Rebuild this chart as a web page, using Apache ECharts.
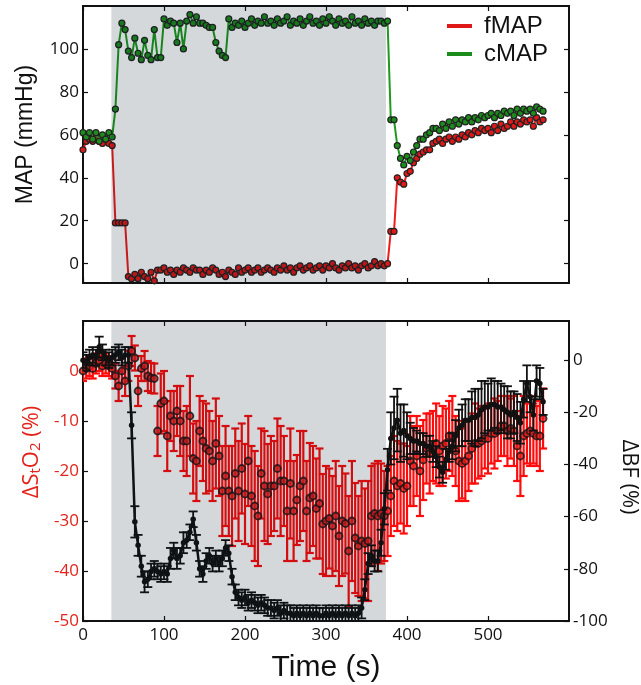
<!DOCTYPE html>
<html>
<head>
<meta charset="utf-8">
<script src="https://cdn.jsdelivr.net/npm/echarts@6.0.0/dist/echarts.min.js"></script>
<style>html,body{margin:0;padding:0;background:#fff}#c{width:641px;height:685px}</style>
</head>
<body>
<div id="c"></div>
<script>
// ---- data (sampled every 4 s, starting at 0 s) ----
const STEP = 4;
const fMAP = [
 53,57,58,57,59,57,56,58,56,55,
 19,19,19,19,-6,-7,-5,-7,-4,-6,
 -7,-4,-8,-3,-3,-2,-4,-3,-5,-3,
 -4,-2,-3,-4,-2,-3,-3,-5,-3,-4,
 -2,-3,-5,-4,-6,-3,-4,-5,-2,-4,
 -3,-2,-4,-3,-2,-4,-3,-2,-3,-4,
 -2,-3,-1,-3,-2,-4,-2,-1,-3,-2,
 -1,-3,-2,-1,-3,-1,-2,0,-2,-3,
 -1,-2,0,-2,-1,-3,-1,0,-2,-1,
 1,-1,0,-1,0,15,15,40,38,37,
 42,43,47,49,51,52,53,53,56,57,
 58,56,58,59,57,59,58,60,59,61,
 60,62,61,63,62,63,61,64,62,65,
 63,64,66,64,66,65,67,66,67,64,
 68,66,67];
const cMAP = [
 61,59,61,58,61,57,60,58,61,59,
 72,102,112,109,99,96,105,98,95,104,
 97,95,109,96,96,114,111,113,112,103,
 112,100,113,116,112,115,112,112,111,110,
 110,103,99,97,96,114,110,112,111,113,
 110,112,114,111,113,112,115,112,113,111,
 114,112,113,115,111,113,112,114,111,113,
 115,112,113,111,114,112,115,113,111,114,
 112,113,111,115,112,113,111,114,112,113,
 111,113,113,112,113,67,67,55,49,46,
 50,48,52,55,58,58,60,61,63,63,
 62,65,63,66,64,67,65,67,66,68,
 66,68,67,69,68,69,70,68,70,69,
 71,70,71,69,72,70,72,71,72,70,
 73,72,71];
const StO2 = [
 0,0.5,1,0.5,1.5,2,1,1.5,1,0.5,
 -1,-3,0,-2,1,4,2.6,-4,0.5,1,
 -1,-1.4,-1.5,-12,-6.5,-6,-13,-9,-10,-8,
 -10,-14,-14,-9,-17.5,-18,-12,-14,-15.5,-16,
 -18,-14.5,-17,-24,-21,-24,-25,-20.5,-24,-19.5,
 -24.6,-18,-25,-27,-29,-20.5,-23,-24.6,-23,-23,
 -19.5,-22,-22,-28,-22.5,-28,-25.8,-23,-22,-28,
 -25.4,-25,-27.5,-26.5,-30.6,-30,-29.5,-31,-29,-33,
 -30,-30.5,-36,-30,-33.4,-35,-34,-34.5,-34,-29,
 -28.5,-29,-28.5,-29,-28,-25,-22,-23,-22.5,-23.5,
 -23,-18,-19,-17,-20,-17.8,-15.5,-16.5,-15,-14.5,
 -16,-15,-14.5,-13,-13,-16,-18,-18.5,-18,-17,
 -15.5,-14.5,-14.5,-14,-13.5,-13.5,-12.5,-12.5,-12,-11,
 -11,-12,-11.5,-12,-15,-17,-13,-12.5,-12,-12.5,
 -13,-13,-9.5];
const StO2Err = [
 2,2,2,2,2,2,2,2,2,2,
 2.5,3,2.5,3,3,3,2.5,3,2.5,3,
 3,3,3,5,6,6,7,5,6,5,
 7,6,7,8,7,8,7,8,9,8,
 8,9,8,9,10,9,10,9,10,9,
 10,9,10,11,10,9,11,10,10,9,
 10,11,9,10,11,10,9,11,10,10,
 11,10,10,11,10,11,10,10,11,10,
 11,10,11,12,11,10,12,11,12,10,
 10,11,10,9,9,8,9,9,8,9,
 8,9,8,8,9,8,7,8,7,8,
 7,8,7,7,8,7,8,7,8,7,
 7,8,7,7,6,7,6,7,6,6,
 6,7,6,7,7,8,8,6,7,6,
 6,7,6];
const BF = [
 0,-1,1,2,1,5,3,1,0,1,
 2,3,1,2,2,-25,-62,-71,-79,-85,
 -84,-81,-80,-81,-82,-81,-82,-76,-73,-76,
 -75,-70,-69,-66,-61,-70,-80,-82,-77,-75,
 -78,-76,-78,-76,-72,-74,-83,-89,-91,-92,
 -91,-93,-92,-93,-94,-93,-94,-95,-95,-96,
 -95,-97,-96,-97,-97,-98,-97,-98,-97,-98,
 -97,-98,-97,-98,-98,-97,-98,-97,-98,-97,
 -98,-97,-98,-97,-98,-97,-95,-88,-78,-75,
 -77,-77,-70,-57,-42,-30,-26,-23,-28,-27,
 -29,-30,-31,-31,-32,-32,-33,-33,-35,-37,
 -41,-43,-38,-35,-33,-29,-26,-25,-23,-23,
 -22,-22,-21,-19,-18,-18,-17,-17,-18,-18,
 -19,-20,-21,-20,-22,-24,-15,-9,-14,-21,
 -8,-9,-16];
const BFErr = [
 3,3,3,3,3,4,3,3,3,3,
 3,3,3,3,3,5,6,4,4,4,
 3,3,3,3,3,3,3,4,3,4,
 3,4,3,3,3,3,3,3,3,3,
 3,3,3,3,3,3,3,3,3,3,
 3,3,3,3,3,3,3,3,3,3,
 3,3,3,3,3,3,3,3,3,3,
 3,3,3,3,3,3,3,3,3,3,
 3,3,3,3,3,3,4,4,4,4,
 4,4,5,6,8,10,12,12,11,10,
 9,6,5,4,4,4,4,4,4,4,
 4,4,4,4,5,6,7,8,8,8,
 10,11,10,11,10,9,10,9,10,9,
 9,10,9,8,9,8,7,7,6,6,
 6,6,5];
const shadeRange = [35, 374];
const xTicks = [0, 100, 200, 300, 400, 500];
const mapTicks = [0, 20, 40, 60, 80, 100];
const sto2Ticks = [-50, -40, -30, -20, -10, 0];
const bfTicks = [-100, -80, -60, -40, -20, 0];

// ---- build ----
const t = i => i * STEP;
const pairs = arr => arr.map((v, i) => [t(i), v]);
const errs = (arr, e) => arr.map((v, i) => [t(i), v - e[i], v + e[i]]);

const RED = '#ee1c1c', GREEN = '#1f9a1f', BLK = '#111111', LRED = '#e3231b';
const tickFont = 'Open Sans';
const titleFont = 'Liberation Sans';

function errRender(color, cap, lw) {
  return function (params, api) {
    const x = api.value(0), lo = api.value(1), hi = api.value(2);
    const a = api.coord([x, hi]), b = api.coord([x, lo]);
    const st = { stroke: color, lineWidth: lw };
    return { type: 'group', children: [
      { type: 'line', shape: { x1: a[0], y1: a[1], x2: b[0], y2: b[1] }, style: st },
      { type: 'line', shape: { x1: a[0] - cap, y1: a[1], x2: a[0] + cap, y2: a[1] }, style: st },
      { type: 'line', shape: { x1: b[0] - cap, y1: b[1], x2: b[0] + cap, y2: b[1] }, style: st }
    ]};
  };
}
function shadeRender(yMin, yMax) {
  return function (params, api) {
    const p0 = api.coord([api.value(0), yMax]);
    const p1 = api.coord([api.value(1), yMin]);
    return { type: 'rect', shape: { x: p0[0], y: p0[1], width: p1[0] - p0[0], height: p1[1] - p0[1] },
      style: { fill: 'rgba(2,25,37,0.17)' } };
  };
}
function mkX(gridIndex, position, labels) {
  const ax = {
    type: 'value', gridIndex, position, min: 0, max: 600,
    axisLine: { show: false, onZero: false }, splitLine: { show: false },
    axisTick: { inside: true, length: 5, lineStyle: { color: BLK, width: 1.2 }, customValues: xTicks },
    axisLabel: { show: labels, customValues: xTicks, margin: 6, color: BLK, fontSize: 17, fontFamily: tickFont }
  };
  if (labels) {
    ax.name = 'Time (s)'; ax.nameLocation = 'middle'; ax.nameGap = 32;
    ax.nameTextStyle = { fontSize: 30, fontFamily: titleFont, color: BLK };
  }
  return ax;
}
function mkY(gridIndex, position, min, max, ticks, labelOpt, nameOpt) {
  const ax = {
    type: 'value', gridIndex, position, min, max,
    axisLine: { show: false, onZero: false }, splitLine: { show: false },
    axisTick: { inside: true, length: 5, lineStyle: { color: BLK, width: 1.2 }, customValues: ticks },
    axisLabel: Object.assign({ customValues: ticks, margin: 4, fontSize: 17, fontFamily: tickFont, color: BLK }, labelOpt)
  };
  return Object.assign(ax, nameOpt || {});
}

const option = {
  animation: false,
  backgroundColor: '#ffffff',
  grid: [
    { left: 83, top: 6, width: 486, height: 277, outerBoundsMode: 'none', containLabel: false,
      show: true, borderColor: BLK, borderWidth: 2, backgroundColor: 'rgba(0,0,0,0)' },
    { left: 83, top: 321, width: 486, height: 300, outerBoundsMode: 'none', containLabel: false,
      show: true, borderColor: BLK, borderWidth: 2, backgroundColor: 'rgba(0,0,0,0)' }
  ],
  legend: {
    data: ['fMAP', 'cMAP'], orient: 'vertical', left: 442, top: 9, itemGap: 4,
    icon: 'rect', itemWidth: 25, itemHeight: 4, itemStyle: { borderWidth: 0 },
    textStyle: { fontSize: 24, fontFamily: titleFont, color: BLK, padding: [0, 0, 0, 7] }
  },
  xAxis: [mkX(0, 'bottom', false), mkX(0, 'top', false), mkX(1, 'bottom', true), mkX(1, 'top', false)],
  yAxis: [
    mkY(0, 'left', -9, 120, mapTicks, {}, {
      name: 'MAP (mmHg)', nameLocation: 'middle', nameGap: 46,
      nameTextStyle: { fontSize: 23, fontFamily: titleFont, color: BLK, padding: [0, 0, 0, 20] }
    }),
    mkY(0, 'right', -9, 120, mapTicks, { show: false }),
    mkY(1, 'left', -50, 10, sto2Ticks, { color: LRED }, {
      name: '{a|ΔS}{s|t}{a|O}{s|2}{a| (%)}', nameLocation: 'middle', nameGap: 39,
      nameTextStyle: { color: LRED, fontFamily: tickFont, padding: [0, 0, 0, 38],
        rich: {
          a: { fontSize: 22, lineHeight: 30, verticalAlign: 'bottom', color: LRED, fontFamily: tickFont },
          s: { fontSize: 15, lineHeight: 14, verticalAlign: 'bottom', color: LRED, fontFamily: tickFont }
        } }
    }),
    mkY(1, 'right', -100, 15, bfTicks, {}, {
      name: 'ΔBF (%)', nameLocation: 'middle', nameGap: 44, nameRotate: -90,
      nameTextStyle: { fontSize: 22, fontFamily: tickFont, color: BLK, padding: [0, 0, 0, 12] }
    })
  ],
  series: [
    { name: 'fMAP', type: 'line', xAxisIndex: 0, yAxisIndex: 0, data: pairs(fMAP), z: 3,
      color: RED, showAllSymbol: true, symbol: 'circle', symbolSize: 6,
      lineStyle: { color: RED, width: 2 },
      itemStyle: { color: '#e01818', borderColor: '#222', borderWidth: 1.2 } },
    { name: 'cMAP', type: 'line', xAxisIndex: 0, yAxisIndex: 0, data: pairs(cMAP), z: 4,
      color: GREEN, showAllSymbol: true, symbol: 'circle', symbolSize: 6,
      lineStyle: { color: GREEN, width: 2 },
      itemStyle: { color: '#1c8c1c', borderColor: '#222', borderWidth: 1.2 } },
    { type: 'custom', xAxisIndex: 0, yAxisIndex: 0, z: 10, silent: true, clip: true,
      data: [[shadeRange[0], shadeRange[1], 0]], encode: { x: [0, 1], y: 2 },
      renderItem: shadeRender(-9, 120) },

    { type: 'custom', xAxisIndex: 2, yAxisIndex: 2, z: 2, silent: true, clip: true,
      data: errs(StO2, StO2Err), encode: { x: 0, y: [1, 2] },
      renderItem: errRender('#ff0d0d', 4, 2.2) },
    { name: 'StO2', type: 'scatter', xAxisIndex: 2, yAxisIndex: 2, z: 3, data: pairs(StO2),
      symbol: 'circle', symbolSize: 7,
      itemStyle: { color: '#e81a1a', borderColor: '#141414', borderWidth: 1.8 } },
    { type: 'custom', xAxisIndex: 2, yAxisIndex: 3, z: 4, silent: true, clip: true,
      data: errs(BF, BFErr), encode: { x: 0, y: [1, 2] },
      renderItem: errRender(BLK, 4.5, 1.8) },
    { name: 'BF', type: 'line', xAxisIndex: 2, yAxisIndex: 3, z: 5, data: pairs(BF),
      showAllSymbol: true, symbol: 'circle', symbolSize: 5.5,
      lineStyle: { color: BLK, width: 2.5 }, itemStyle: { color: BLK } },
    { type: 'custom', xAxisIndex: 2, yAxisIndex: 2, z: 10, silent: true, clip: true,
      data: [[shadeRange[0], shadeRange[1], 0]], encode: { x: [0, 1], y: 2 },
      renderItem: shadeRender(-50, 10) }
  ]
};
const chart = echarts.init(document.getElementById('c'), null, { renderer: 'canvas' });
chart.setOption(option);
</script>
</body>
</html>
